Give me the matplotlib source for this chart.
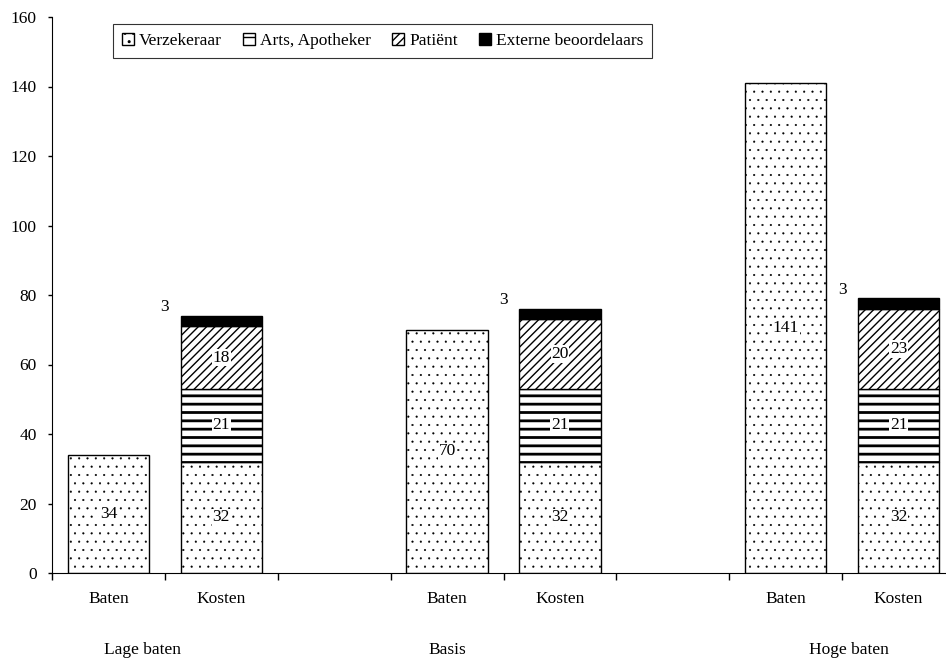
import matplotlib
matplotlib.use("Agg")
import matplotlib.pyplot as plt

plt.rcParams["font.family"] = ["Liberation Serif", "DejaVu Serif"]
plt.rcParams["font.size"] = 12.5

# data
bar_labels = ["Baten", "Kosten", "", "Baten", "Kosten", "", "Baten", "Kosten"]
groups = ["Lage baten", "Basis", "Hoge baten"]
series = ["Verzekeraar", "Arts, Apotheker", "Patiënt", "Externe beoordelaars"]
verzekeraar = [34, 32, 0, 70, 32, 0, 141, 32]
arts = [0, 21, 0, 0, 21, 0, 0, 21]
patient = [0, 18, 0, 0, 20, 0, 0, 23]
extern = [0, 3, 0, 0, 3, 0, 0, 3]

hatches = ["..", "--", "////", None]
hatch_lw = [0.3, 2.0, 1.0, 1.0]
faces = ["white", "white", "white", "black"]

fig = plt.figure(figsize=(9.46, 6.6), dpi=100)
ax = fig.add_axes([52 / 946, 87 / 660, 903 / 946, 556 / 660])

x = [i + 0.5 for i in range(len(bar_labels))]
bottom = [0] * len(x)
handles = []
for name, vals, h, hl, fc in zip(series, [verzekeraar, arts, patient, extern],
                                 hatches, hatch_lw, faces):
    keep = [i for i, v in enumerate(vals) if v > 0]
    with plt.rc_context({"hatch.linewidth": hl}):
        bars = ax.bar([x[i] for i in keep], [vals[i] for i in keep], 0.72,
                      bottom=[bottom[i] for i in keep], facecolor=fc,
                      edgecolor="black", hatch=h, linewidth=1.0, label=name)
    for p in bars:
        if hasattr(p, "set_hatch_linewidth"):
            p.set_hatch_linewidth(hl)
    handles.append(bars)
    for i in keep:
        v, b = vals[i], bottom[i]
        if name == "Externe beoordelaars":
            ax.text(x[i] - 0.5, b + v + 2.5, str(v), ha="center", va="center")
        else:
            ax.text(x[i], b + v / 2, str(v), ha="center", va="center",
                    bbox=dict(facecolor="white", edgecolor="none", pad=0.5))
    bottom = [b + v for b, v in zip(bottom, vals)]

ax.set_xlim(0, 8)
ax.set_ylim(0, 160)
ax.set_yticks(range(0, 161, 20))
ax.set_xticks(range(9))
ax.set_xticklabels([""] * 9)
ax.set_xticks(x, minor=True)
ax.set_xticklabels(bar_labels, minor=True)
ax.tick_params(axis="x", which="major", direction="out", length=5, width=1)
ax.tick_params(axis="x", which="minor", length=0, pad=13)
ax.tick_params(axis="y", direction="out", length=3, width=1, pad=8)
ax.spines["top"].set_visible(False)
ax.spines["right"].set_visible(False)

trans = ax.get_xaxis_transform()
for gx, g in zip([0.8, 3.5, 7.06], groups):
    ax.text(gx, -0.1385, g, transform=trans, ha="center", va="center")

leg = ax.legend(handles=handles, loc="upper left", bbox_to_anchor=(0.0675, 0.987),
                borderaxespad=0, ncol=4, fancybox=False, edgecolor="black",
                handlelength=0.7, handleheight=0.7, handletextpad=0.3,
                columnspacing=1.2, borderpad=0.5)
leg.get_frame().set_linewidth(0.8)

fig.savefig("out.png", dpi=100)
